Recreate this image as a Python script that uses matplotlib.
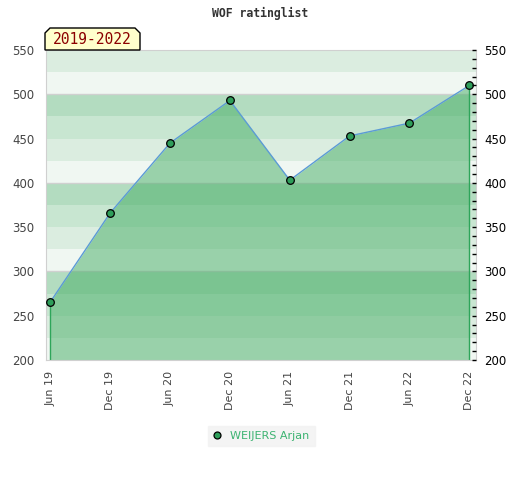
import numpy as np
import matplotlib
matplotlib.use("Agg")
import matplotlib.pyplot as plt
from matplotlib.patches import Polygon
from matplotlib.lines import Line2D

# Data
periods = ["Jun 19", "Dec 19", "Jun 20", "Dec 20", "Jun 21", "Dec 21", "Jun 22", "Dec 22"]
ratings = [265.5, 366, 445, 493, 403, 453, 467.5, 510]
player = "WEIJERS Arjan"
span_label = "2019-2022"
title = "WOF ratinglist"

# background band colours, light -> dark within each 100 points
band_colors = ["#f0f7f2", "#dbede0", "#c8e6d1", "#b3dcc0"]
ymin, ymax = 200, 550

fig = plt.figure(figsize=(5.2, 4.8), dpi=100)
ax = fig.add_axes([0.0879, 0.25, 0.827, 0.6458])
x = np.arange(len(periods))

# horizontal bands every 25 points
for i, lo in enumerate(range(ymin, ymax, 25)):
    ax.axhspan(lo, lo + 25, color=band_colors[i % 4], lw=0, zorder=0)
for gy in (300, 400, 500):
    ax.axhline(gy, color="#d0d0d0", lw=1, zorder=0.5)

ax.fill_between(x, ratings, ymin, color="#44ad64", alpha=0.5, lw=0, zorder=1)
ax.vlines([x[0], x[-1]], ymin, [ratings[0], ratings[-1]], color="#2ea55a", lw=1, zorder=2)
ax.plot(x, ratings, color="#5b9bd5", lw=1, zorder=3)
ax.plot(x, ratings, "o", ms=5.5, mfc="#2e9e5a", mec="black", mew=0.9, zorder=4)

ax.set_xlim(-0.077, 7.107)
ax.set_ylim(ymin, ymax)
ax.set_xticks(x)
ax.set_xticklabels(periods, rotation=90)
ax.set_yticks(range(200, 551, 50))
ax.tick_params(axis="x", length=0, pad=8, labelsize=8, labelcolor="#444444")
ax.tick_params(axis="y", length=0, pad=8, labelsize=8.5, labelcolor="#444444")
for s in ax.spines.values():
    s.set_color("#d0d0d0")

ax2 = ax.twinx()
ax2.set_ylim(ymin, ymax)
ax2.set_yticks(range(200, 551, 50))
ax2.set_yticks(range(200, 551, 10), minor=True)
ax2.tick_params(axis="y", which="both", direction="in", length=3, width=1,
                pad=6, labelsize=8.5, labelcolor="black", color="black")
for s in ax2.spines.values():
    s.set_visible(False)

fig.text(0.5, 1 - 13 / 480, title, ha="center", va="center",
         family="DejaVu Sans Mono", weight="bold", fontsize=8.3, color="#333333")

# period label box with clipped top corners
W, H = 520, 480
bx0, bx1, by0, by1, c = 45, 140, 28, 50, 5
pts = [(bx0, by1), (bx0, by0 + c), (bx0 + c, by0), (bx1 - c, by0), (bx1, by0 + c), (bx1, by1)]
box = Polygon([(px / W, 1 - py / H) for px, py in pts], closed=True,
              transform=fig.transFigure, facecolor="#ffffcc", edgecolor="black", lw=1)
fig.patches.append(box)
fig.text((bx0 + bx1) / 2 / W, 1 - 40 / H, span_label, ha="center", va="center",
         family="DejaVu Sans Mono", fontsize=10.5, color="#8b0000")

handle = Line2D([], [], ls="none", marker="o", ms=5, mfc="#2e9e5a", mec="black", mew=0.9)
leg = fig.legend([handle], [player], loc="center", bbox_to_anchor=(0.502, 1 - 436 / 480),
                 frameon=True, fontsize=8, handlelength=0.8, handletextpad=0.8,
                 borderpad=0.45, fancybox=False)
leg.get_frame().set_facecolor("#f2f2f2")
leg.get_frame().set_edgecolor("#f2f2f2")
for t in leg.get_texts():
    t.set_color("#3cb371")

fig.savefig("out.png", dpi=100)
